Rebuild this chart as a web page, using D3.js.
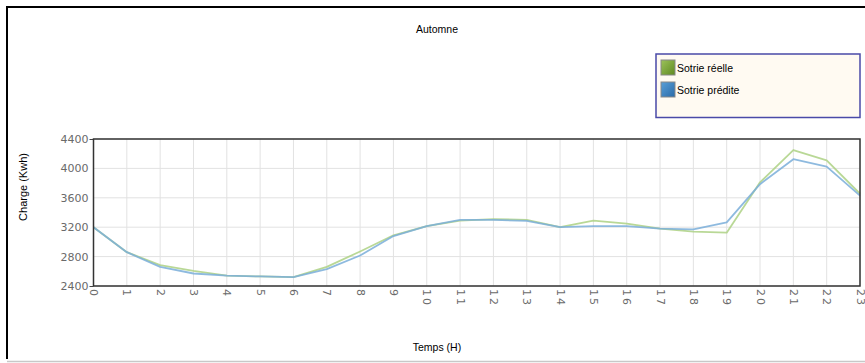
<!DOCTYPE html>
<html>
<head>
<meta charset="utf-8">
<script src="https://cdn.jsdelivr.net/npm/d3@7"></script>
<style>
  html, body { margin: 0; padding: 0; background: #fff; }
  svg { display: block; }
</style>
</head>
<body>
<svg id="chart" width="865" height="363"></svg>
<script>
// Hourly load for autumn: measured vs predicted output
const hours = d3.range(0, 24);
const sortieReelle = [3200, 2860, 2685, 2605, 2540, 2530, 2520, 2660, 2870, 3090, 3215, 3290, 3310, 3300, 3200, 3290, 3250, 3180, 3140, 3125, 3810, 4250, 4110, 3655];
const sortiePredite = [3200, 2860, 2660, 2570, 2540, 2530, 2520, 2630, 2815, 3080, 3215, 3300, 3300, 3285, 3200, 3215, 3215, 3180, 3170, 3265, 3785, 4125, 4025, 3630];
const yTicks = [2400, 2800, 3200, 3600, 4000, 4400];
const seriesNames = ["Sotrie réelle", "Sotrie prédite"];
const seriesColors = ["#add184", "#7aaed9"];

const svg = d3.select("#chart");
const plot = { left: 93.5, right: 860, top: 139, bottom: 286 };

const x = d3.scaleLinear().domain([0, 23]).range([plot.left, plot.right]);
const y = d3.scaleLinear().domain([2400, 4400]).range([plot.bottom, plot.top]);

// Outer frame
svg.append("line").attr("x1", 7).attr("x2", 865).attr("y1", 7).attr("y2", 7)
  .attr("stroke", "#000").attr("stroke-width", 2);
svg.append("line").attr("x1", 7).attr("x2", 7).attr("y1", 6).attr("y2", 359)
  .attr("stroke", "#000").attr("stroke-width", 2);
svg.append("line").attr("x1", 7).attr("x2", 865).attr("y1", 361.5).attr("y2", 361.5)
  .attr("stroke", "#c8c8c8").attr("stroke-width", 1.5);

// Title
svg.append("text").attr("x", 437).attr("y", 33).attr("text-anchor", "middle")
  .attr("font-family", "Liberation Sans, Arial, sans-serif").attr("font-size", 10.5)
  .attr("fill", "#000").text("Automne");

// Grid
const grid = svg.append("g");
grid.selectAll("line.v").data(hours).join("line").attr("class", "v")
  .attr("x1", d => x(d)).attr("x2", d => x(d))
  .attr("y1", plot.top).attr("y2", plot.bottom)
  .attr("stroke", "#e2e2e2").attr("stroke-width", 1);
grid.selectAll("line.h").data(yTicks).join("line").attr("class", "h")
  .attr("x1", plot.left).attr("x2", plot.right)
  .attr("y1", d => y(d)).attr("y2", d => y(d))
  .attr("stroke", "#e2e2e2").attr("stroke-width", 1);

// Y axis labels; only the end ticks carry a mark
const yAxis = d3.axisLeft(y).tickValues(yTicks).tickSize(4).tickPadding(1).tickFormat(d3.format("d"));
const gy = svg.append("g").attr("transform", `translate(${plot.left},0)`).call(yAxis);
gy.select(".domain").remove();
gy.selectAll(".tick line").attr("stroke", "#444")
  .attr("display", d => (d === 2400 || d === 4400) ? null : "none");
gy.selectAll(".tick text").attr("font-family", "DejaVu Sans, Verdana, sans-serif")
  .attr("font-size", 11).attr("fill", "#6a6a6a");

// X axis labels, rotated
const xAxis = d3.axisBottom(x).tickValues(hours).tickSize(0).tickFormat(d => String(d));
const gx = svg.append("g").attr("transform", `translate(0,${plot.bottom})`).call(xAxis);
gx.select(".domain").remove();
gx.selectAll(".tick text")
  .attr("font-family", "DejaVu Sans, Verdana, sans-serif").attr("font-size", 11)
  .attr("fill", "#6a6a6a").attr("letter-spacing", 2)
  .attr("text-anchor", "start").attr("dy", null)
  .attr("transform", "translate(-4,3) rotate(90)")
  .attr("y", 0).attr("x", 0);

// Lines
const line = d3.line().x((d, i) => x(hours[i])).y(d => y(d));
[sortieReelle, sortiePredite].forEach((vals, k) => {
  svg.append("path").datum(vals).attr("d", line)
    .attr("fill", "none").attr("stroke", seriesColors[k])
    .attr("stroke-width", 1.8).attr("stroke-opacity", 0.85)
    .attr("stroke-linejoin", "round");
});

// Plot frame
svg.append("rect").attr("x", plot.left).attr("y", plot.top)
  .attr("width", plot.right - plot.left).attr("height", plot.bottom - plot.top)
  .attr("fill", "none").attr("stroke", "#333").attr("stroke-width", 1.5);

// Axis titles
svg.append("text").attr("transform", "translate(27,187) rotate(-90)")
  .attr("text-anchor", "middle").attr("font-family", "Liberation Sans, Arial, sans-serif")
  .attr("font-size", 11).attr("fill", "#000").text("Charge (Kwh)");
svg.append("text").attr("x", 437).attr("y", 351).attr("text-anchor", "middle")
  .attr("font-family", "Liberation Sans, Arial, sans-serif").attr("font-size", 10.5)
  .attr("fill", "#000").text("Temps (H)");

// Legend
const defs = svg.append("defs");
const swatchGrad = [["#9cc25a", "#5f8a22"], ["#5aa0d8", "#2a6aa8"]];
swatchGrad.forEach((c, i) => {
  const g = defs.append("linearGradient").attr("id", "sw" + i)
    .attr("x1", 0).attr("y1", 0).attr("x2", 1).attr("y2", 1);
  g.append("stop").attr("offset", 0).attr("stop-color", c[0]);
  g.append("stop").attr("offset", 1).attr("stop-color", c[1]);
});
const legend = svg.append("g");
legend.append("rect").attr("x", 656).attr("y", 54).attr("width", 204).attr("height", 63.5)
  .attr("fill", "#fffaf2").attr("stroke", "#4a4aa8").attr("stroke-width", 1.5);
const items = legend.selectAll("g.item").data(seriesNames).join("g").attr("class", "item")
  .attr("transform", (d, i) => `translate(661,${60 + i * 22})`);
items.append("rect").attr("width", 14).attr("height", 15)
  .attr("fill", (d, i) => `url(#sw${i})`).attr("stroke", "#888").attr("stroke-width", 1);
items.append("text").attr("x", 16).attr("y", 11.5)
  .attr("font-family", "Liberation Sans, Arial, sans-serif").attr("font-size", 10.5)
  .attr("fill", "#000").text(d => d);
</script>
</body>
</html>
